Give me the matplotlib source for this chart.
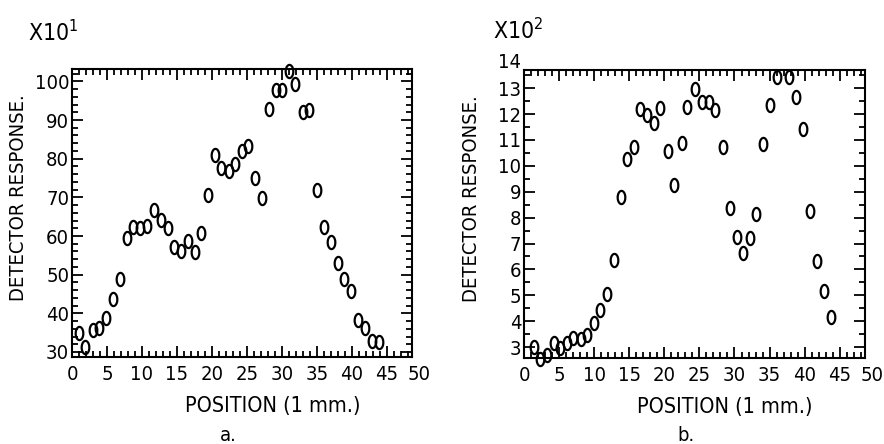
import numpy as np
import matplotlib
matplotlib.use("Agg")
import matplotlib.pyplot as plt
from matplotlib.path import Path
from matplotlib.ticker import MultipleLocator

plt.rcParams['font.family'] = ['DejaVu Sans']
plt.rcParams['font.stretch'] = 'condensed'

# panel a: detector response (x10^1) vs position (mm)
pos_a = [0.95, 1.9, 3.0, 3.8, 4.9, 5.9, 6.8, 7.8, 8.7, 9.7,
         10.7, 11.7, 12.7, 13.7, 14.6, 15.6, 16.6, 17.6, 18.5, 19.4,
         20.4, 21.3, 22.4, 23.3, 24.3, 25.2, 26.2, 27.2, 28.1, 29.1,
         30.0, 31.0, 31.9, 33.0, 33.9, 35.0, 36.0, 37.0, 38.0, 38.9,
         39.9, 40.9, 41.9, 42.9, 43.9]
resp_a = [34.8, 31.3, 35.6, 36.1, 38.7, 43.8, 49.0, 59.4, 62.4, 62.1,
          62.6, 66.6, 64.1, 62.0, 57.2, 56.2, 58.8, 55.8, 60.7, 70.6,
          81.0, 77.5, 76.8, 78.6, 82.1, 83.4, 75.1, 69.9, 92.9, 97.8,
          97.8, 102.6, 99.4, 92.2, 92.7, 71.9, 62.4, 58.4, 52.9, 49.0,
          45.8, 38.4, 36.3, 32.9, 32.6]

# panel b: detector response (x10^2) vs position (mm)
pos_b = [1.37, 2.3, 3.26, 4.21, 5.14, 6.09, 7.04, 8.07, 9.02, 9.96,
         10.9, 11.9, 12.85, 13.8, 14.7, 15.7, 16.6, 17.6, 18.5, 19.4,
         20.5, 21.4, 22.5, 23.3, 24.3, 25.3, 26.3, 27.2, 28.3, 29.3,
         30.3, 31.2, 32.2, 33.1, 34.0, 35.0, 36.0, 37.8, 38.8, 39.8,
         40.8, 41.8, 42.8, 43.8]
resp_b = [3.01, 2.56, 2.69, 3.14, 2.95, 3.14, 3.36, 3.30, 3.46, 3.92,
          4.43, 5.07, 6.36, 8.80, 10.25, 10.73, 12.18, 11.98, 11.64, 12.25,
          10.57, 9.25, 10.89, 12.28, 12.95, 12.47, 12.47, 12.15, 10.73, 8.39,
          7.26, 6.62, 7.20, 8.14, 10.86, 12.34, 13.44, 13.44, 12.66, 11.41,
          8.25, 6.33, 5.16, 4.15]

# tall open "O" marker like the plotter's
t = np.linspace(0, 2 * np.pi, 60)
oval = Path(np.column_stack([0.58 * np.cos(t), np.sin(t)]))

fig = plt.figure(figsize=(8.84, 4.44), dpi=100)
ax1 = fig.add_axes([72 / 884, 87 / 444, 340 / 884, 288 / 444])
ax2 = fig.add_axes([524 / 884, 86 / 444, 341 / 884, 288 / 444])

FS = 14.5


def style(ax, ymajor, yminor):
    ax.set_xlim(0, 48.6)
    ax.xaxis.set_major_locator(MultipleLocator(5))
    ax.xaxis.set_minor_locator(MultipleLocator(1))
    ax.yaxis.set_major_locator(MultipleLocator(ymajor))
    ax.yaxis.set_minor_locator(MultipleLocator(yminor))
    ax.tick_params(which='both', direction='in', top=True, right=True,
                   width=1.3, labelsize=FS)
    ax.tick_params(which='major', length=8)
    ax.tick_params(which='minor', length=4)
    ax.tick_params(axis='x', pad=6)
    ax.tick_params(axis='y', pad=2)
    for s in ax.spines.values():
        s.set_linewidth(1.5)
    # the "50" label sits just past the right edge
    ax.annotate('50', xy=(50, 0), xycoords=('data', 'axes fraction'),
                xytext=(-2, -6), textcoords='offset points',
                ha='center', va='top', fontsize=FS, annotation_clip=False)
    ax.set_xlabel('POSITION (1 mm.)', fontsize=FS + 1)
    ax.xaxis.set_label_coords(0.59, -0.135)
    ax.set_ylabel('DETECTOR RESPONSE.', fontsize=FS)


ax1.plot(pos_a, resp_a, linestyle='none', marker=oval, markersize=9.5,
         markerfacecolor='none', markeredgecolor='black', markeredgewidth=1.6,
         clip_on=False)
ax1.set_ylim(28.7, 103.2)
style(ax1, 10, 2)
ax1.yaxis.set_label_coords(-0.13, 0.554)
fig.text(28 / 884, 1 - 33 / 444, 'X10$^{1}$', fontsize=FS + 2, va='center', ha='left')
fig.text(228 / 884, 1 - 435 / 444, 'a.', fontsize=FS, ha='center', va='center')

ax2.plot(pos_b, resp_b, linestyle='none', marker=oval, markersize=9.5,
         markerfacecolor='none', markeredgecolor='black', markeredgewidth=1.6,
         clip_on=False)
ax2.set_ylim(2.58, 13.7)
style(ax2, 1, 0.5)
ax2.yaxis.set_label_coords(-0.126, 0.554)
# the "14" label sits just above the top edge
ax2.annotate('14', xy=(0, 14), xycoords=('axes fraction', 'data'),
             xytext=(-2, 0), textcoords='offset points',
             ha='right', va='center', fontsize=FS, annotation_clip=False)
fig.text(493 / 884, 1 - 31 / 444, 'X10$^{2}$', fontsize=FS + 2, va='center', ha='left')
fig.text(686 / 884, 1 - 435 / 444, 'b.', fontsize=FS, ha='center', va='center')

fig.savefig('out.png', dpi=100)
